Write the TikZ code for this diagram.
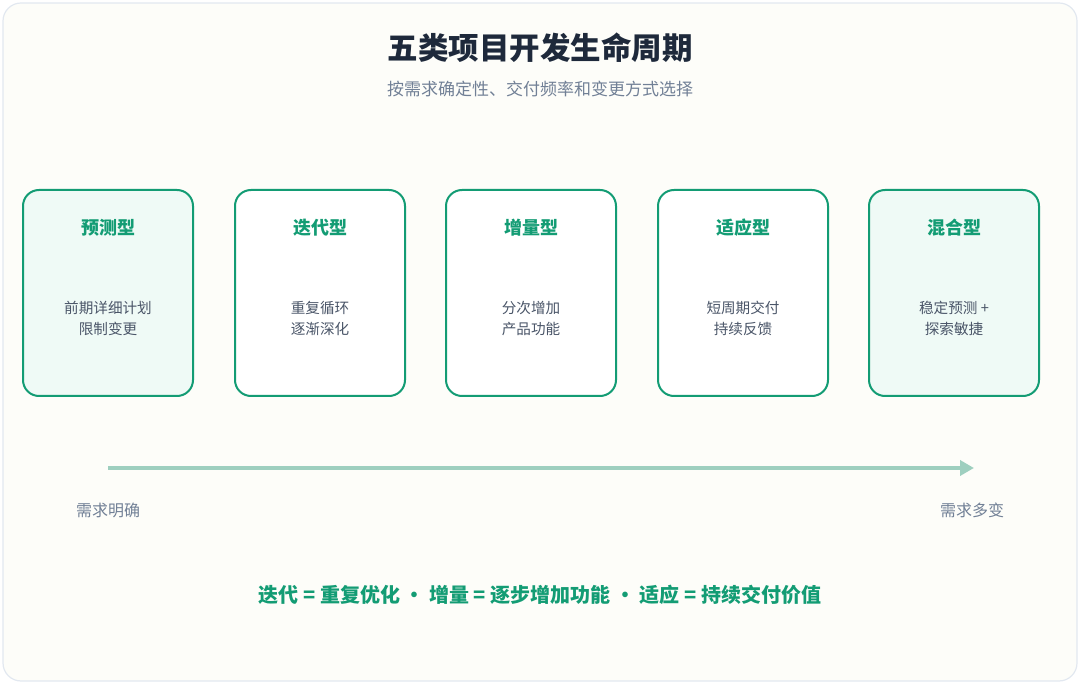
\documentclass[tikz,border=0pt]{standalone}
\usepackage{fontspec}
\setmainfont{Noto Sans CJK SC}
\usetikzlibrary{arrows.meta,positioning}
\definecolor{bgpaper}{HTML}{FDFDF9}
\definecolor{frame}{HTML}{E2E8F0}
\definecolor{leaf}{HTML}{139C74}
\definecolor{mint}{HTML}{EFFAF6}
\definecolor{ink}{HTML}{1E293B}
\definecolor{slate}{HTML}{718096}
\definecolor{body}{HTML}{4A5568}
\definecolor{track}{HTML}{9ECFBF}

\begin{document}
\begin{tikzpicture}[x=1pt, y=-1pt,
  card/.style={draw=leaf, line width=2pt, rounded corners=16pt, minimum width=170pt, minimum height=206pt, inner sep=0pt},
  cardtitle/.style={font=\fontsize{18}{21}\selectfont\bfseries, text=leaf},
  cardtext/.style={font=\fontsize{14.6}{21.5}\selectfont, text=body, align=center},
  endlabel/.style={font=\fontsize{16}{18}\selectfont, text=slate}]
\useasboundingbox (0,0) rectangle (1080,684);
\draw[frame, fill=bgpaper, line width=1.2pt, rounded corners=18pt] (3,3) rectangle (1077,681);

\node[font=\fontsize{30.5}{34}\selectfont\bfseries, text=ink] (title) at (540,48) {五类项目开发生命周期};
\node[font=\fontsize{17}{19}\selectfont, text=slate] (subtitle) at (540,89) {按需求确定性、交付频率和变更方式选择};

% the five life cycles
\node[card, fill=mint] (pred) at (108,293) {};
\node[card, fill=white] (iter) at (320,293) {};
\node[card, fill=white] (incr) at (531,293) {};
\node[card, fill=white] (adap) at (743,293) {};
\node[card, fill=mint] (hybr) at (954,293) {};

\node[cardtitle] (pred-t) at (108,228) {预测型};
\node[cardtitle] (iter-t) at (320,228) {迭代型};
\node[cardtitle] (incr-t) at (531,228) {增量型};
\node[cardtitle] (adap-t) at (743,228) {适应型};
\node[cardtitle] (hybr-t) at (954,228) {混合型};

\node[cardtext] (pred-d) at (108,318.5) {前期详细计划\\限制变更};
\node[cardtext] (iter-d) at (320,318.5) {重复循环\\逐渐深化};
\node[cardtext] (incr-d) at (531,318.5) {分次增加\\产品功能};
\node[cardtext] (adap-d) at (743,318.5) {短周期交付\\持续反馈};
\node[cardtext] (hybr-d) at (954,318.5) {稳定预测 +\\探索敏捷};

% requirement axis
\coordinate (fixed) at (108,468);
\coordinate (open) at (974,468);
\draw[track, line width=3.5pt, -{Triangle[length=14pt,width=15pt]}] (fixed) -- (open);
\node[endlabel] (fixed-l) at (108,510) {需求明确};
\node[endlabel] (open-l) at (972,510) {需求多变};

\node[font=\fontsize{20}{24}\selectfont\bfseries, text=leaf] (summary) at (540,595) {迭代 = 重复优化 · 增量 = 逐步增加功能 · 适应 = 持续交付价值};
\end{tikzpicture}
\end{document}
